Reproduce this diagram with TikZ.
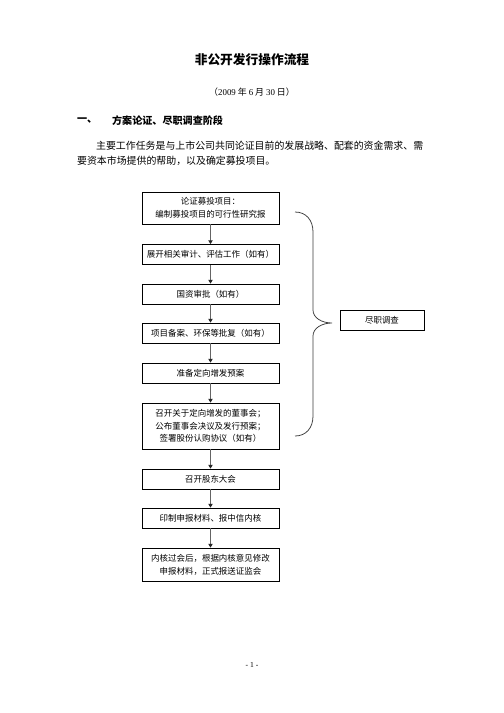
\documentclass[tikz,border=0pt]{standalone}
\usepackage{fontspec}
\setmainfont{Noto Sans CJK SC}
\newfontfamily\tnr{Liberation Serif}
\usetikzlibrary{positioning,arrows.meta}
\definecolor{flowgray}{RGB}{100,100,100}
\definecolor{bracegray}{RGB}{60,60,60}

\begin{document}
\begin{tikzpicture}[x=1.1806pt,y=-1.1806pt,
  stepbox/.style={draw=black,line width=0.8pt,minimum width=161.7pt,minimum height=23.6pt,
    align=center,inner sep=2pt,font=\fontsize{10}{15}\selectfont},
  flowarrow/.style={flowgray,line width=1.5pt,-{Triangle[width=5pt,length=4.5pt,color=black!85]}},
  pagetext/.style={inner sep=0pt}]
\useasboundingbox (0,0) rectangle (504,713);

% header of the page
\node[pagetext,font=\fontsize{15}{18}\selectfont\bfseries] (title) at (252,60) {非公开发行操作流程};
\node[pagetext,font=\fontsize{10.5}{13}\selectfont] (date) at (252,92) {（{\tnr 2009} 年 {\tnr 6} 月 {\tnr 30} 日）};
\node[pagetext,anchor=west,font=\fontsize{11.9}{14}\selectfont\bfseries] (secnum) at (77,121) {一、};
\node[pagetext,anchor=west,font=\fontsize{11.9}{14}\selectfont\bfseries] (sectitle) at (112,121) {方案论证、尽职调查阶段};
\node[pagetext,anchor=west,font=\fontsize{11.7}{14}\selectfont] (body1) at (96,146) {主要工作任务是与上市公司共同论证目前的发展战略、配套的资金需求、需};
\node[pagetext,anchor=west,font=\fontsize{11.7}{14}\selectfont] (body2) at (77,161) {要资本市场提供的帮助，以及确定募投项目。};

% flow steps
\node[stepbox,minimum height=37.8pt] (b1) at (210.5,208) {论证募投项目：\\编制募投项目的可行性研究报};
\node[stepbox] (b2) at (210.5,254.5) {展开相关审计、评估工作（如有）};
\node[stepbox] (b3) at (210.5,294) {国资审批（如有）};
\node[stepbox] (b4) at (210.5,333) {项目备案、环保等批复（如有）};
\node[stepbox] (b5) at (210.5,373) {准备定向增发预案};
\node[stepbox,minimum height=54.3pt] (b6) at (210.5,426) {召开关于定向增发的董事会；\\公布董事会决议及发行预案；\\签署股份认购协议（如有）};
\node[stepbox] (b7) at (210.5,479) {召开股东大会};
\node[stepbox] (b8) at (210.5,518) {印制申报材料、报中信内核};
\node[stepbox,minimum height=39pt] (b9) at (210.5,564.5) {内核过会后，根据内核意见修改\\申报材料，正式报送证监会};

\foreach \a/\b in {b1/b2,b2/b3,b3/b4,b4/b5,b5/b6,b6/b7,b7/b8,b8/b9} {
  \draw[flowarrow] (\a) -- (\b);
}

% brace and due diligence box
\node[stepbox,minimum width=99pt] (dd) at (382,320) {尽职调查};
\coordinate (bracetip) at (332,323);
\draw[bracegray,line width=0.9pt] (295,212) .. controls (306,212) and (313,220) .. (313,232)
  -- (313,310) .. controls (313,318) and (322,323) .. (bracetip)
  .. controls (322,323) and (313,328) .. (313,336)
  -- (313,416) .. controls (313,428) and (306,436) .. (295,436);

% page number
\node[pagetext,font=\fontsize{9}{11}\selectfont\tnr] (pagenum) at (252,665) {- 1 -};
\end{tikzpicture}
\end{document}
